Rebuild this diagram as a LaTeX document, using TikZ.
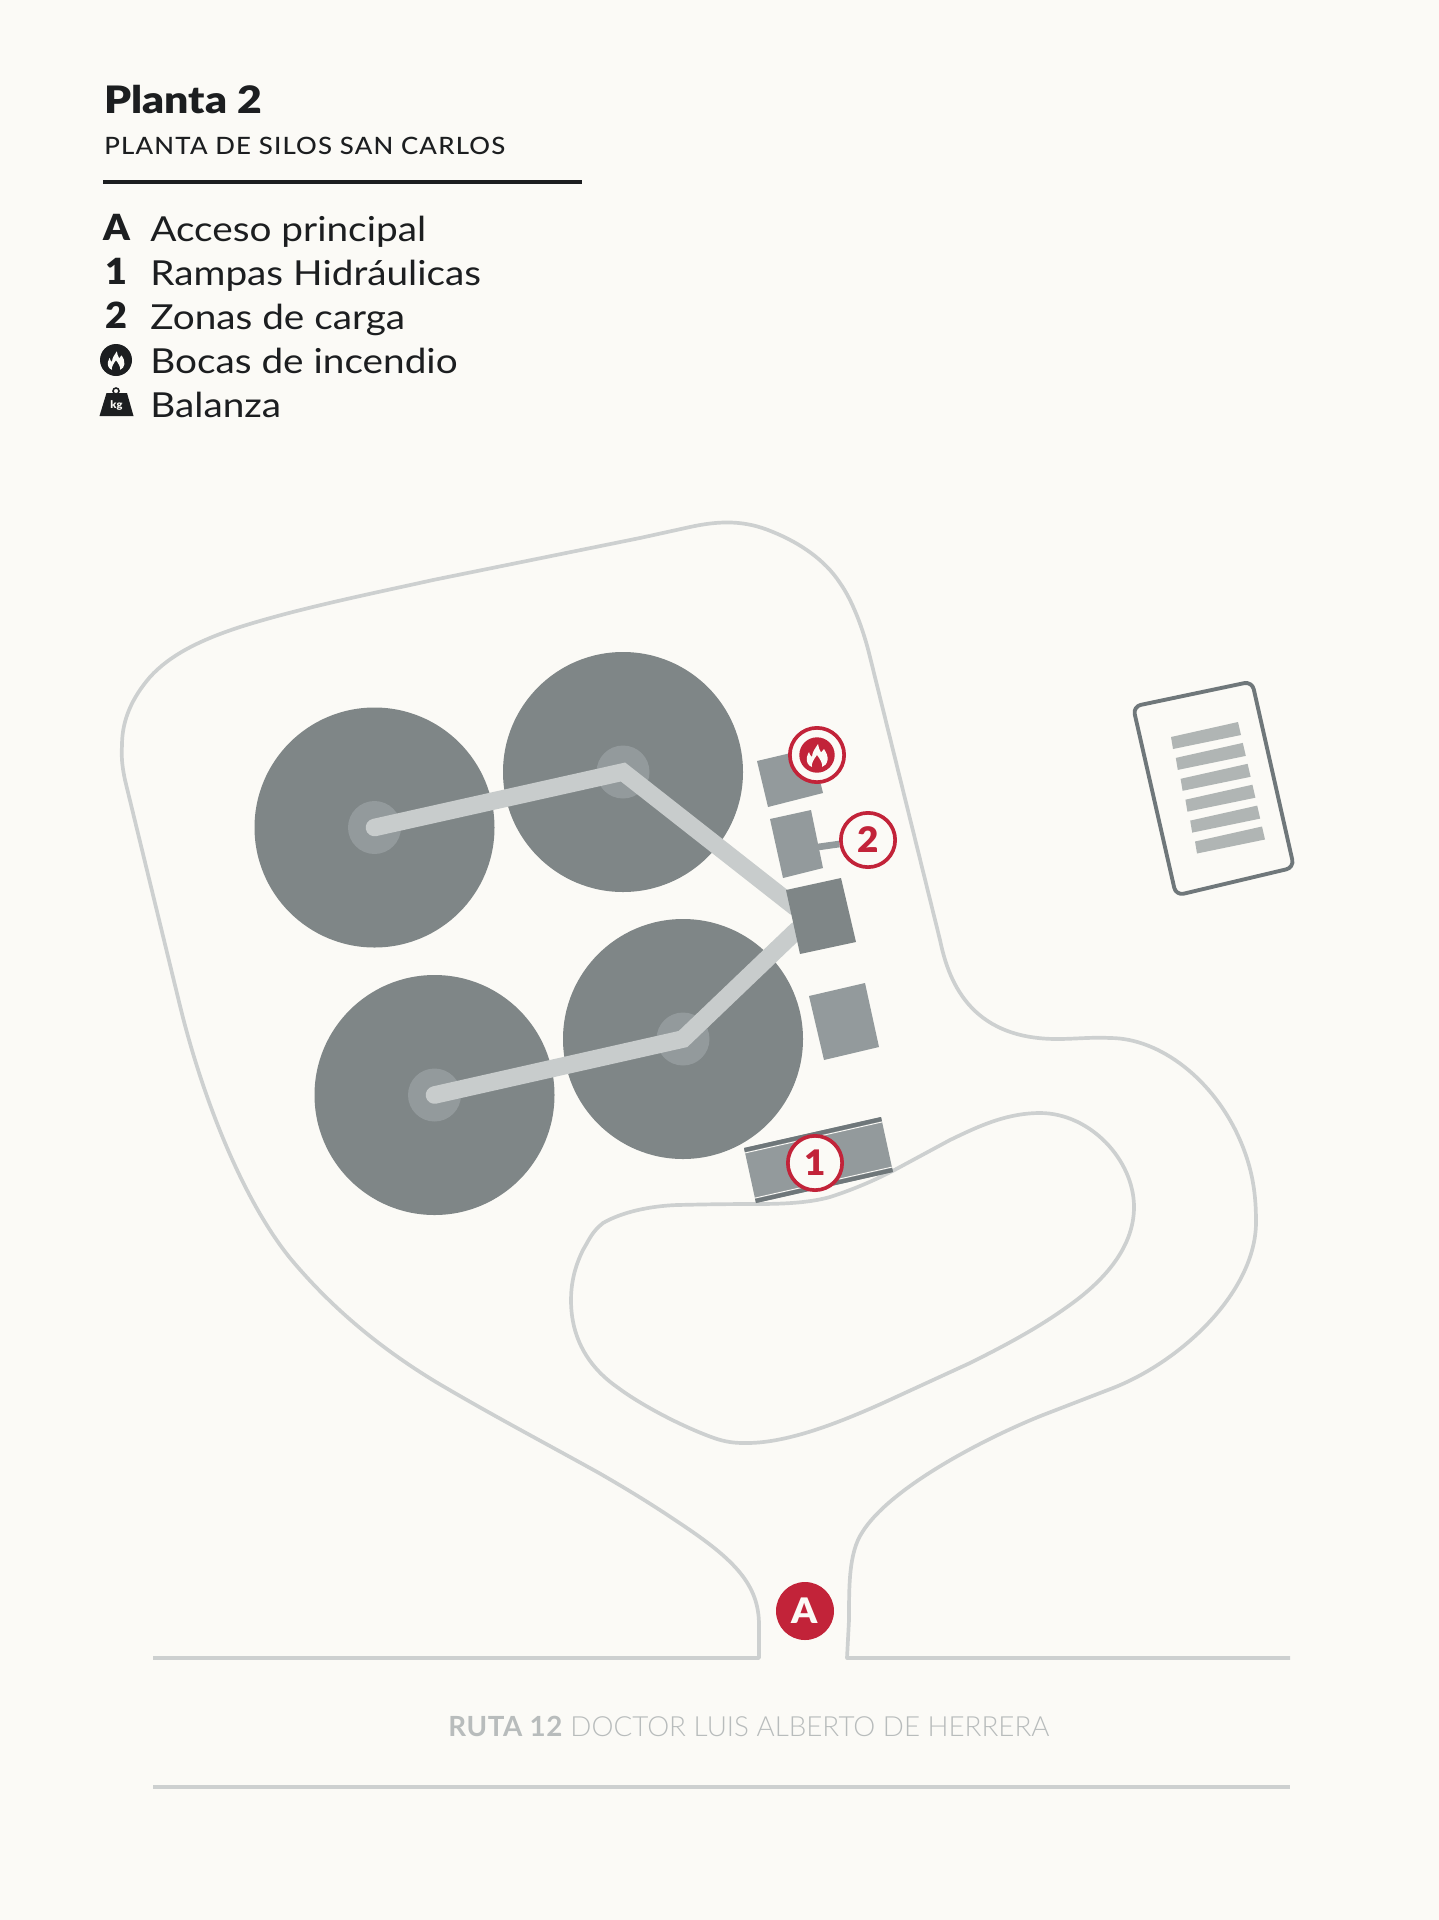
\documentclass[tikz,border=0pt]{standalone}
\usepackage{fontspec}
\setmainfont{Lato}[FakeStretch=1.125]
\newfontfamily\negra{Lato Black}[FakeStretch=1.05]
\newfontfamily\titular{Lato Black}[FakeStretch=1.13]
\newfontfamily\media{Lato Medium}[FakeStretch=1.08,LetterSpace=5]
\newfontfamily\negrita{Lato Bold}[LetterSpace=2]
\newfontfamily\ligera{Lato Light}
\usetikzlibrary{calc}
\definecolor{fondo}{HTML}{FBFAF6}
\definecolor{silo}{HTML}{7F8687}
\definecolor{claro}{HTML}{939A9C}
\definecolor{cinta}{HTML}{C8CCCC}
\definecolor{camino}{HTML}{CDD0D0}
\definecolor{rojo}{HTML}{C22339}
\definecolor{negro}{HTML}{1C1E20}
\definecolor{oscuro}{HTML}{6F777A}
\definecolor{barra}{HTML}{B0B5B4}
\newlength{\unit}
\setlength{\unit}{0.02cm}
\tikzset{
  caminoline/.style={draw=camino, line width=2.1pt, line join=round},
  cintaline/.style={draw=cinta, line width=10pt, line join=miter, line cap=round},
  marker/.style={circle, draw=rojo, fill=fondo, line width=2.1pt, minimum size=54.3\unit, inner sep=0pt,
     text=rojo, font=\fontsize{20}{20}\selectfont\negra},
  legendtext/.style={anchor=base west, inner sep=0pt, text=negro, font=\fontsize{19.6}{24}\selectfont},
  legendkey/.style={anchor=base, inner sep=0pt, text=negro, font=\fontsize{20.5}{24}\selectfont\negra},
  flamepic/.pic={
    \fill[pic actions] (-5,11) .. controls (-9,9.5) and (-11,6) .. (-10,1)
      .. controls (-9.7,-1) and (-8.8,-2.5) .. (-8,-4) .. controls (-7.5,-1.5) and (-6.5,0) .. (-5,1)
      .. controls (-5,-4) and (-1.5,-8) .. (1,-12) .. controls (1.5,-8.5) and (2.5,-6) .. (4,-3.5)
      .. controls (5,-4.5) and (6,-5.5) .. (7,-7) .. controls (9.5,-3) and (11,0) .. (10.5,4)
      .. controls (10,7.5) and (8,10) .. (5,11) .. controls (6,7.5) and (3,3) .. (0,-1)
      .. controls (-3,3) and (-6,7.5) .. (-5,11) -- cycle;
  }
}
\begin{document}
\begin{tikzpicture}[x=0.02cm, y=-0.02cm]
  \useasboundingbox (0,0) rectangle (1439,1920);
  \fill[fondo] (0,0) rectangle (1439,1920);

  % Titulo y leyenda
  \node[anchor=base west, inner sep=0pt, text=negro, font=\fontsize{21.5}{24}\selectfont\titular] (titulo) at (104,113) {Planta 2};
  \node[anchor=base west, inner sep=0pt, text=negro, font=\fontsize{13.6}{16}\selectfont\media] (subtitulo) at (104,154) {PLANTA DE SILOS SAN CARLOS};
  \draw[negro, line width=1.9pt] (103,182) -- (582,182);
  \node[legendkey] (keyA) at (117,240) {A};
  \node[legendkey] (key1) at (116,284) {1};
  \node[legendkey] (key2) at (116,328) {2};
  \node[legendtext] (acceso) at (150,241) {Acceso principal};
  \node[legendtext] (rampas) at (150,285) {Rampas Hidráulicas};
  \node[legendtext] (zonas) at (150,329) {Zonas de carga};
  \node[legendtext] (bocas) at (150,373) {Bocas de incendio};
  \node[legendtext] (balanza) at (150,417) {Balanza};
  \fill[negro] (116,360) circle (16);
  \pic[fill=fondo, scale=0.8] at (116,361) {flamepic};
  \fill[negro] (106.5,393) -- (127,393) -- (133.5,416) -- (99.5,416) -- cycle;
  \draw[negro, line width=0.9pt] (116,391) circle (3);
  \node[inner sep=0pt, text=fondo, font=\fontsize{6}{6}\selectfont\negra] (kg) at (116.5,405) {kg};

  % Caminos
  \draw[caminoline] (153,1658) -- (759,1658) -- (759,1625) .. controls (759,1585) and (735,1560) .. (681,1524)
    .. controls (650,1503) and (625,1488) .. (599,1473) .. controls (545,1443) and (490,1414) .. (436,1382)
    .. controls (385,1351) and (335,1312) .. (290,1258) .. controls (240,1196) and (200,1090) .. (178.6,1000)
    -- (125,780) .. controls (123,770) and (121,760) .. (122,745)
    .. controls (122,720) and (132,698) .. (150,677) .. controls (170,655) and (200,640) .. (240,627)
    .. controls (300,608) and (370,594) .. (433,580) -- (640,538) -- (690,527)
    .. controls (720,520.5) and (745,520) .. (773,532) .. controls (800,543) and (825,560) .. (840,583)
    .. controls (852,600) and (863,628) .. (870,657) -- (940,940)
    .. controls (948,978) and (968,1039) .. (1057,1039) .. controls (1075,1039) and (1092,1037) .. (1110,1038)
    .. controls (1160,1038) and (1214,1080) .. (1240,1140) .. controls (1253,1170) and (1256,1195) .. (1256,1222)
    .. controls (1256,1290) and (1184,1360) .. (1113,1388)
    -- (1043,1415) .. controls (985,1438) and (873,1495) .. (856,1545) .. controls (849,1565) and (849,1590) .. (849,1620)
    -- (847,1658) -- (1290,1658);
  \draw[caminoline] (757,1204) .. controls (720,1204) and (700,1204.5) .. (677,1205) .. controls (650,1206) and (622,1212) .. (603,1223)
    .. controls (592,1232) and (590,1238) .. (583,1250) .. controls (574,1268) and (571,1285) .. (571,1300)
    .. controls (571,1340) and (590,1368) .. (617,1387) .. controls (645,1408) and (690,1430) .. (717,1439)
    .. controls (730,1443) and (738,1443) .. (747,1443) .. controls (790,1443) and (845,1420) .. (883,1403)
    -- (970,1363) .. controls (1000,1348) and (1035,1330) .. (1067,1307) .. controls (1100,1284) and (1134,1250) .. (1134,1207)
    .. controls (1134,1160) and (1090,1113) .. (1040,1113) .. controls (1005,1113) and (975,1128) .. (950,1140)
    -- (900,1167) .. controls (880,1178) and (855,1189) .. (830,1197) .. controls (812,1202) and (790,1204) .. (757,1204) -- cycle;
  \draw[caminoline] (153,1787) -- (1290,1787);
  \node[inner sep=0pt, text=cinta!92!black, font=\fontsize{15.8}{16}\selectfont] (ruta) at (749,1726) {{\negrita RUTA 12} {\ligera DOCTOR LUIS ALBERTO DE HERRERA}};

  % Silos
  \foreach \cx/\cy/\nombre in {374.5/827.5/siloa, 623/772/silob, 434.5/1095/siloc, 683/1039/silod}{
    \fill[silo] (\cx,\cy) circle (120);
    \fill[claro] (\cx,\cy) circle (26.5);
    \coordinate (\nombre) at (\cx,\cy);
  }
  \coordinate (cargaA) at (795,907);
  \coordinate (cargaB) at (797,930);
  \draw[cintaline] (siloa) -- (silob) -- (cargaA);
  \draw[cintaline] (siloc) -- (silod) -- (cargaB);

  % Zonas de carga
  \fill[claro] (757,761) -- (812,748) -- (823,793) -- (768,807) -- cycle;
  \fill[claro] (770,819) -- (811,810) -- (823,868) -- (783,878) -- cycle;
  \fill[silo] (786,890) -- (841,878) -- (856,942) -- (800,954) -- cycle;
  \fill[claro] (809,996) -- (865,983) -- (879,1047) -- (824,1060) -- cycle;

  % Rampa
  \coordinate (rampaTL) at (744,1148);
  \coordinate (rampaTR) at (881,1117);
  \coordinate (rampaBR) at (893,1172);
  \coordinate (rampaBL) at (756,1203);
  \fill[claro] (rampaTL) -- (rampaTR) -- (rampaBR) -- (rampaBL) -- cycle;
  \fill[oscuro] (rampaTL) -- (rampaTR) -- ($(rampaTR)!0.075!(rampaBR)$) -- ($(rampaTL)!0.075!(rampaBL)$) -- cycle;
  \fill[oscuro] (rampaBL) -- (rampaBR) -- ($(rampaBR)!0.075!(rampaTR)$) -- ($(rampaBL)!0.075!(rampaTL)$) -- cycle;
  \draw[fondo, line width=0.5pt] ($(rampaTL)!0.09!(rampaBL)$) -- ($(rampaTR)!0.09!(rampaBR)$);
  \draw[fondo, line width=0.5pt] ($(rampaBL)!0.09!(rampaTL)$) -- ($(rampaBR)!0.09!(rampaTR)$);

  % Balanza
  \draw[oscuro, line width=2.2pt, rounded corners=4.5pt] (1133,706.5) -- (1252,681.5) -- (1294,867.5) -- (1176,895.5) -- cycle;
  \foreach \n in {0,...,5}{
    \fill[barra] ($(1171,737)+(\n*4.8,\n*20.9)$) -- ($(1238,722)+(\n*4.8,\n*20.9)$) -- ($(1241,735)+(\n*4.8,\n*20.9)$) -- ($(1173,749)+(\n*4.8,\n*20.9)$) -- cycle;
  }

  % Marcas
  \coordinate (zona2) at (818,847);
  \node[marker] (m2) at (868,840) {2};
  \draw[claro, line width=3.8pt] (zona2) -- (m2);
  \node[marker] (m1) at (815,1163) {1};
  \node[marker] (mfuego) at (817,755) {};
  \fill[rojo] (mfuego.center) circle (17.7);
  \pic[fill=fondo, scale=1] at (817,756) {flamepic};
  \node[circle, fill=rojo, minimum size=58\unit, inner sep=0pt, text=fondo, font=\fontsize{20}{20}\selectfont\negra] (mA) at (805,1611) {A};
\end{tikzpicture}
\end{document}
